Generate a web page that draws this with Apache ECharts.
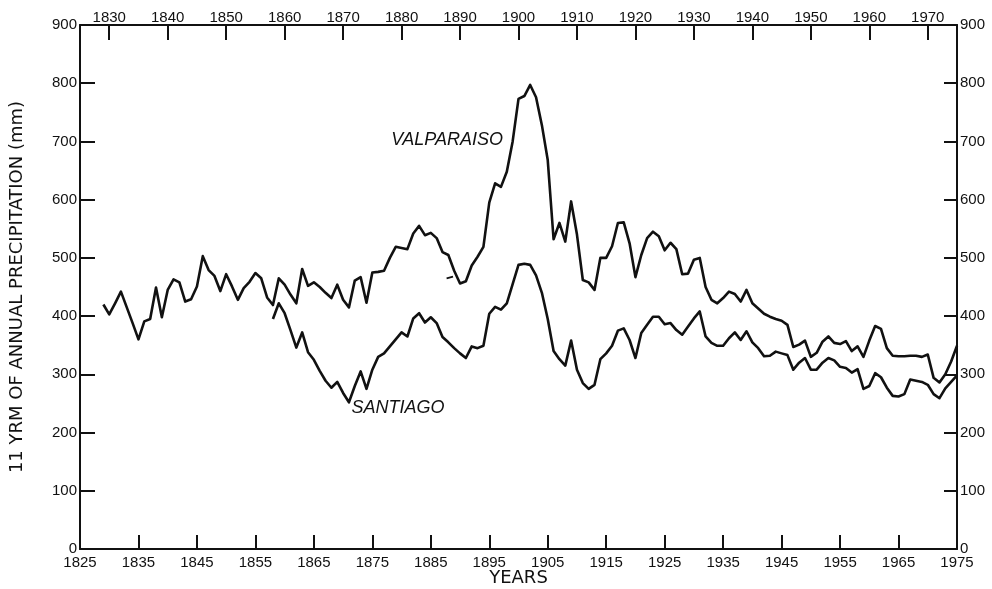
<!DOCTYPE html>
<html>
<head>
<meta charset="utf-8">
<title>11 YRM of annual precipitation — Valparaiso and Santiago</title>
<script src="https://cdn.jsdelivr.net/npm/echarts@6/dist/echarts.min.js"></script>
<style>
  html, body { margin: 0; padding: 0; background: #fff; }
  #chart { width: 992px; height: 589px; }
</style>
</head>
<body>
<div id="chart"></div>
<script>
// 11-year running means of annual precipitation (mm), one value per year
const valparaisoStart = 1829;
const valparaiso = [
  420, 403, 422, 442, 415, 388, 360, 391, 395, 449, // 1829-1838
  398, 445, 463, 458, 425, 429, 451, 503, 479, 469, // 1839-1848
  443, 472, 451, 428, 448, 459, 474, 465, 432, 419, // 1849-1858
  465, 454, 437, 422, 481, 452, 458, 450, 440, 431, // 1859-1868
  454, 428, 415, 461, 467, 423, 475, 476, 478, 500, // 1869-1878
  519, 517, 515, 542, 555, 539, 543, 534, 510, 505, // 1879-1888
  478, 456, 460, 487, 502, 519, 595, 628, 622, 648, // 1889-1898
  700, 773, 778, 797, 776, 728, 668, 532, 560, 528, // 1899-1908
  597, 540, 462, 458, 445, 500, 500, 520, 560, 561, // 1909-1918
  525, 467, 505, 534, 545, 537, 513, 526, 515, 472, // 1919-1928
  473, 497, 500, 450, 428, 422, 431, 442, 438, 425, // 1929-1938
  445, 422, 413, 404, 399, 395, 392, 385, 347, 351, // 1939-1948
  358, 330, 337, 356, 365, 354, 352, 357, 340, 348, // 1949-1958
  330, 358, 383, 378, 345, 332, 331, 331, 332, 332, // 1959-1968
  330, 334, 294, 286, 300, 322, 349                 // 1969-1975
];

const santiagoStart = 1858;
const santiago = [
  395, 422, 405, 376, 346, 372, 338, 325, 306, 289, // 1858-1867
  277, 287, 268, 252, 280, 305, 275, 308, 330, 336, // 1868-1877
  348, 360, 372, 365, 396, 405, 389, 398, 388, 364, // 1878-1887
  355, 345, 336, 328, 348, 345, 349, 404, 416, 411, // 1888-1897
  422, 455, 488, 490, 488, 470, 440, 395, 340, 326, // 1898-1907
  315, 358, 308, 285, 275, 282, 326, 336, 349, 375, // 1908-1917
  379, 359, 328, 371, 385, 399, 399, 386, 388, 376, // 1918-1927
  368, 382, 396, 408, 365, 354, 349, 349, 362, 372, // 1928-1937
  359, 374, 355, 345, 331, 332, 339, 336, 333, 308, // 1938-1947
  320, 328, 308, 308, 320, 328, 324, 313, 311, 303, // 1948-1957
  309, 275, 280, 302, 295, 277, 263, 262, 266, 291, // 1958-1967
  289, 287, 282, 266, 259, 276, 287, 298            // 1968-1975
];

// short stray stroke beside the Valparaiso curve near 1888
const strayStroke = [[1887.7, 465], [1888.8, 468]];

// axis ranges and tick labels
const yearMin = 1825;
const yearMax = 1975;
const bottomYearStep = 10;            // 1825, 1835, ... 1975
const topYears = [];                  // 1825 ... 1975, labelled every tenth year
for (let y = yearMin; y <= yearMax; y++) topYears.push(String(y));
const valueMin = 0;
const valueMax = 900;
const valueStep = 100;

const toPairs = (start, values) => values.map((v, i) => [start + i, v]);

const font = 'Liberation Sans';
const titleFont = 'DejaVu Sans';
const ink = '#111';

const chart = echarts.init(document.getElementById('chart'), null, { renderer: 'canvas' });

const axisLine = { show: true, onZero: false, lineStyle: { color: ink, width: 2 } };
const tickLabel = { color: ink, fontFamily: font, fontSize: 15 };
const everyTenth = (i, v) => Number(v) % 10 === 0;

chart.setOption({
  backgroundColor: '#fff',
  animation: false,
  grid: { left: 80, right: 35, top: 25, bottom: 40, containLabel: false, outerBoundsMode: 'none' },
  xAxis: [
    {
      type: 'value',
      position: 'bottom',
      min: yearMin,
      max: yearMax,
      interval: bottomYearStep,
      name: 'YEARS',
      nameLocation: 'middle',
      nameGap: 20,
      nameMoveOverlap: false,
      nameTextStyle: { color: ink, fontFamily: titleFont, fontSize: 18 },
      axisLine: axisLine,
      axisTick: { show: true, inside: true, length: 14, lineStyle: { color: ink, width: 2 } },
      axisLabel: Object.assign({ margin: 6, formatter: v => String(v) }, tickLabel),
      splitLine: { show: false }
    },
    {
      type: 'category',
      position: 'top',
      boundaryGap: false,
      data: topYears,
      axisLine: axisLine,
      axisTick: {
        show: true, inside: true, length: 15,
        interval: everyTenth,
        lineStyle: { color: ink, width: 2 }
      },
      axisLabel: Object.assign({ margin: 0, interval: everyTenth }, tickLabel),
      splitLine: { show: false }
    }
  ],
  yAxis: [
    {
      type: 'value',
      position: 'left',
      min: valueMin,
      max: valueMax,
      interval: valueStep,
      name: '11 YRM OF ANNUAL PRECIPITATION (mm)',
      nameLocation: 'middle',
      nameGap: 54,
      nameMoveOverlap: false,
      nameTextStyle: { color: ink, fontFamily: titleFont, fontSize: 18 },
      axisLine: axisLine,
      axisTick: { show: true, inside: true, length: 15, lineStyle: { color: ink, width: 2 } },
      axisLabel: Object.assign({ margin: 3 }, tickLabel),
      splitLine: { show: false }
    },
    {
      type: 'value',
      position: 'right',
      min: valueMin,
      max: valueMax,
      interval: valueStep,
      axisLine: axisLine,
      axisTick: { show: true, inside: true, length: 13, lineStyle: { color: ink, width: 2 } },
      axisLabel: Object.assign({ margin: 3 }, tickLabel),
      splitLine: { show: false }
    }
  ],
  series: [
    {
      name: 'VALPARAISO',
      type: 'line',
      xAxisIndex: 0,
      yAxisIndex: 0,
      data: toPairs(valparaisoStart, valparaiso),
      showSymbol: false,
      lineStyle: { color: ink, width: 2.6, join: 'round' },
      markPoint: {
        symbol: 'circle',
        symbolSize: 0,
        label: {
          show: true, position: 'inside', formatter: 'VALPARAISO',
          color: ink, fontFamily: font, fontSize: 18, fontStyle: 'italic'
        },
        data: [{ coord: [1887.8, 703] }]
      }
    },
    {
      name: 'SANTIAGO',
      type: 'line',
      xAxisIndex: 0,
      yAxisIndex: 0,
      data: toPairs(santiagoStart, santiago),
      showSymbol: false,
      lineStyle: { color: ink, width: 2.6, join: 'round' },
      markPoint: {
        symbol: 'circle',
        symbolSize: 0,
        label: {
          show: true, position: 'inside', formatter: 'SANTIAGO',
          color: ink, fontFamily: font, fontSize: 18, fontStyle: 'italic'
        },
        data: [{ coord: [1879.4, 243] }]
      }
    },
    {
      name: 'stroke',
      type: 'line',
      xAxisIndex: 0,
      yAxisIndex: 0,
      data: strayStroke,
      showSymbol: false,
      lineStyle: { color: ink, width: 1.8 }
    }
  ]
});
</script>
</body>
</html>
